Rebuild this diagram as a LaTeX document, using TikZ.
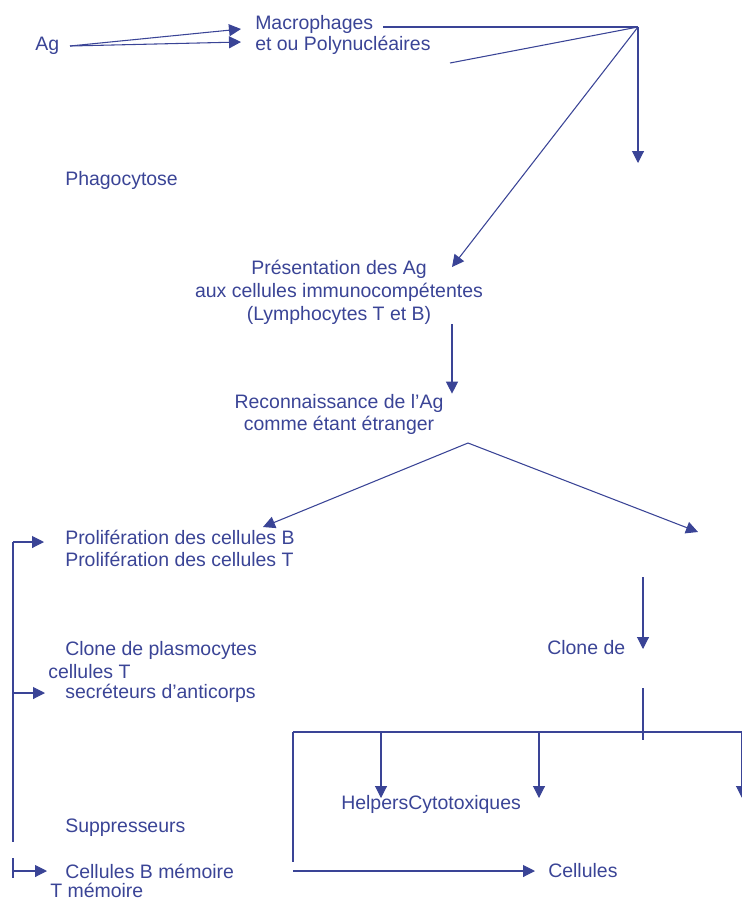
\documentclass[tikz,border=0pt]{standalone}
\usepackage{fontspec}
\setmainfont{Liberation Sans}
\usetikzlibrary{arrows.meta,positioning,calc}
\definecolor{inkblue}{RGB}{58,68,150}

\begin{document}
\begin{tikzpicture}[
    x=0.75pt, y=-0.75pt,
    lbl/.style={inner sep=0pt, text=inkblue, font=\fontsize{14.6}{16.5}\selectfont},
    link/.style={draw=inkblue, line width=0.8pt},
    arrow/.style={link, -{Triangle[length=9pt, width=9pt]}}
]
    \clip (0,0) rectangle (742,900);

    % texts
    \node[lbl, anchor=west] (ag) at (35,46) {Ag};
    \node[lbl, anchor=west] (macro) at (255,24) {Macrophages};
    \node[lbl, anchor=west] (poly) at (255,45) {et ou Polynucléaires};
    \node[lbl, anchor=west] (phago) at (65,180) {Phagocytose};
    \node[lbl, align=center, font=\fontsize{14.6}{17.25}\selectfont] (pres) at (339,292)
        {Présentation des Ag\\aux cellules immunocompétentes\\(Lymphocytes T et B)};
    \node[lbl, align=center] (reco) at (339,414) {Reconnaissance de l'Ag\\comme étant étranger};
    \node[lbl, align=left, anchor=west] (prolif) at (65,548)
        {Prolifération des cellules B\\Prolifération des cellules T};
    \node[lbl, anchor=west] (clonep) at (65,650) {Clone de plasmocytes};
    \node[lbl, anchor=west] (cellT) at (48,672) {cellules T};
    \node[lbl, anchor=west] (secret) at (65,693) {secréteurs d'anticorps};
    \node[lbl, anchor=west] (clonede) at (547,648) {Clone de};
    \node[lbl, anchor=west] (helpers) at (341,804) {HelpersCytotoxiques};
    \node[lbl, anchor=west] (suppr) at (65,828) {Suppresseurs};
    \node[lbl, anchor=west] (cellB) at (65,871) {Cellules B mémoire};
    \node[lbl, anchor=west] (tmem) at (50,890) {T mémoire};
    \node[lbl, anchor=west] (cellules) at (548,871) {Cellules};

    % free ends
    \coordinate (apex) at (638,27);
    \coordinate (phagoend) at (638,163);
    \coordinate (polyend) at (450,63);
    \coordinate (presin) at (452,267);
    \coordinate (split) at (468,443);
    \coordinate (prolifin) at (263,527);
    \coordinate (tcells) at (698,532);
    \coordinate (clonetop) at (643,577);
    \coordinate (clonetip) at (643,649);
    \coordinate (stemtop) at (643,688);
    \coordinate (stembot) at (643,740);
    \coordinate (busL) at (293,732);
    \coordinate (busR) at (742,732);
    \coordinate (busbot) at (293,862);
    \coordinate (memstart) at (293,871);
    \coordinate (brtop) at (13,542);
    \coordinate (brbot) at (13,842);
    \coordinate (tick) at (13,858);
    \coordinate (tickbot) at (13,878);

    % top part
    \draw[arrow] ([xshift=8pt]ag.east) -- ([shift={(-14,5)}]macro.west);
    \draw[arrow] ([xshift=8pt]ag.east) -- ([shift={(-14,-3)}]poly.west);
    \draw[link] ([shift={(10,3)}]macro.east) -- (apex);
    \draw[arrow] (apex) -- (phagoend);
    \draw[link] (apex) -- (polyend);
    \draw[arrow] (apex) -- (presin);
    \draw[arrow] ([xshift=84.75pt]pres.south) -- ([xshift=84.75pt]reco.north);
    \draw[arrow] (split) -- (prolifin);
    \draw[arrow] (split) -- (tcells);

    % T branch
    \draw[arrow] (clonetop) -- (clonetip);
    \draw[link] (stemtop) -- (stembot);
    \draw[link] (busL) -- (busR);
    \foreach \x/\n in {381/h, 539/c, 742/s} {
        \coordinate (drop\n) at (\x,798);
        \draw[arrow] (busL -| drop\n) -- (drop\n);
    }
    \draw[link] (busL) -- (busbot);
    \draw[arrow] (memstart) -- ([xshift=-9.75pt]cellules.west);

    % B branch
    \draw[link] (brtop) -- (brbot);
    \draw[arrow] (brtop) -- ($(prolif.west |- brtop)+(-21,0)$);
    \draw[arrow] (brbot |- secret.west) -- ([xshift=-15pt]secret.west);
    \draw[link] (tick) -- (tickbot);
    \draw[arrow] (tick |- cellB.west) -- ([xshift=-13.5pt]cellB.west);
\end{tikzpicture}
\end{document}
